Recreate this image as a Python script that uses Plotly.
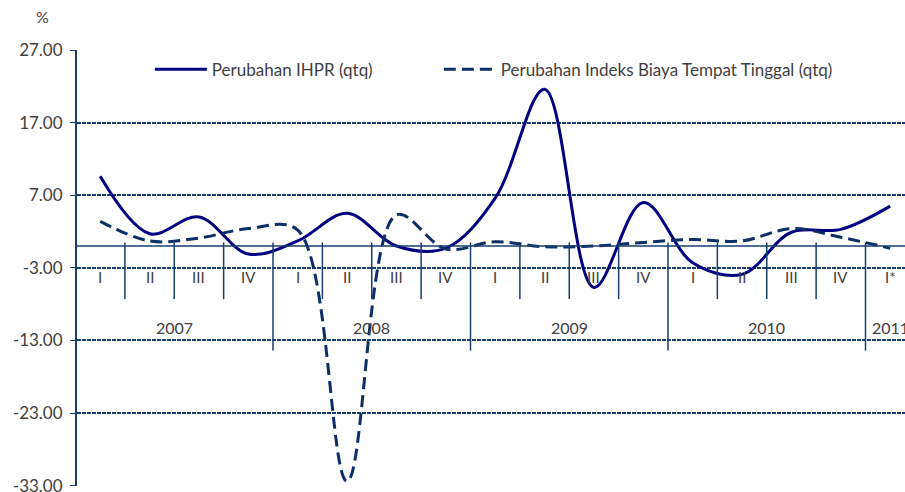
import plotly.graph_objects as go

# Quarterly changes (%, qtq), Q1 2007 .. Q1 2011
quarters = ["I", "II", "III", "IV", "I", "II", "III", "IV",
            "I", "II", "III", "IV", "I", "II", "III", "IV", "I*"]
years = ["2007", "2008", "2009", "2010", "2011"]
ihpr = [9.6, 1.7, 4.0, -1.1, 0.7, 4.5, 0.0, -0.3,
        6.6, 21.6, -5.7, 6.0, -2.3, -3.9, 1.9, 2.3, 5.5]
biaya = [3.4, 0.7, 1.1, 2.4, 2.2, -32.4, 4.3, -0.4,
         0.6, -0.1, 0.0, 0.5, 0.9, 0.7, 2.4, 1.2, -0.3]
y_ticks = [27, 17, 7, -3, -13, -23, -33]

AXIS = "#163e6e"
TEXT = "#404040"
FONT = "Lato"

x = list(range(len(quarters)))

fig = go.Figure()
fig.add_trace(go.Scatter(
    x=x, y=ihpr, mode="lines", name="Perubahan IHPR (qtq)", legend="legend",
    line=dict(color="#000080", width=3, shape="spline", smoothing=1.0),
))
fig.add_trace(go.Scatter(
    x=x, y=biaya, mode="lines", legend="legend2",
    name="Perubahan Indeks Biaya Tempat Tinggal (qtq)",
    line=dict(color="#0b2f66", width=3, dash="12px,6px",
              shape="spline", smoothing=1.0),
))

# Category axis drawn at zero with quarter dividers
fig.add_shape(type="line", xref="paper", yref="y", x0=0, x1=1, y0=0, y1=0,
              line=dict(color=AXIS, width=1.5), layer="above")
step = y_ticks[0] - y_ticks[1]
short_end = y_ticks[3] - 0.43 * step
long_end = y_ticks[4] - 0.14 * step
for i in range(len(quarters) - 1):
    boundary = (i + 1) % 4 == 0
    fig.add_shape(type="line", xref="x", yref="y", x0=i + 0.5, x1=i + 0.5,
                  y0=0.5, y1=long_end if boundary else short_end,
                  line=dict(color=AXIS, width=1.5), layer="above")

qlab_y = y_ticks[3] - 0.12 * step
for i, q in enumerate(quarters):
    fig.add_annotation(x=i, y=qlab_y, text=q, showarrow=False,
                       font=dict(family=FONT, size=15, color=TEXT))
ylab_y = y_ticks[3] - 0.82 * step
for k, yr in enumerate(years):
    xc = 4 * k + 1.5 if k < len(years) - 1 else 4 * k
    fig.add_annotation(x=xc, y=ylab_y, text=yr, showarrow=False,
                       font=dict(family=FONT, size=16, color=TEXT))

fig.add_annotation(xref="paper", yref="paper", x=-0.042, y=1.0, yshift=22,
                   text="%", showarrow=False, xanchor="center", yanchor="bottom",
                   font=dict(family=FONT, size=16, color=TEXT))

legend_style = dict(orientation="h", xanchor="left", yanchor="middle",
                    bgcolor="rgba(0,0,0,0)", itemwidth=52,
                    font=dict(family=FONT, size=17, color=TEXT))

fig.update_layout(
    width=905, height=492,
    margin=dict(l=77, r=0, t=50, b=6, autoexpand=False),
    paper_bgcolor="white", plot_bgcolor="white",
    font=dict(family=FONT, size=15, color=TEXT),
    showlegend=True,
    legend=dict(x=0.088, y=0.955, **legend_style),
    legend2=dict(x=0.437, y=0.955, **legend_style),
    xaxis=dict(range=[-0.47, 16.3], showgrid=False, zeroline=False,
               showticklabels=False, ticks="", showline=False, fixedrange=True,
               automargin=False),
    yaxis=dict(range=[-33.05, 27], tickvals=y_ticks,
               ticktext=[f"{v:.2f}" for v in y_ticks],
               showgrid=True, gridcolor=AXIS, gridwidth=1.5, griddash="4px,1px",
               zeroline=False, showline=True, linecolor=AXIS, linewidth=2,
               ticks="outside", ticklen=5, tickcolor=AXIS, automargin=False,
               ticklabeloverflow="allow", ticklabelstandoff=4,
               tickfont=dict(family=FONT, size=17, color=TEXT)),
)

fig.write_html("out.html")
